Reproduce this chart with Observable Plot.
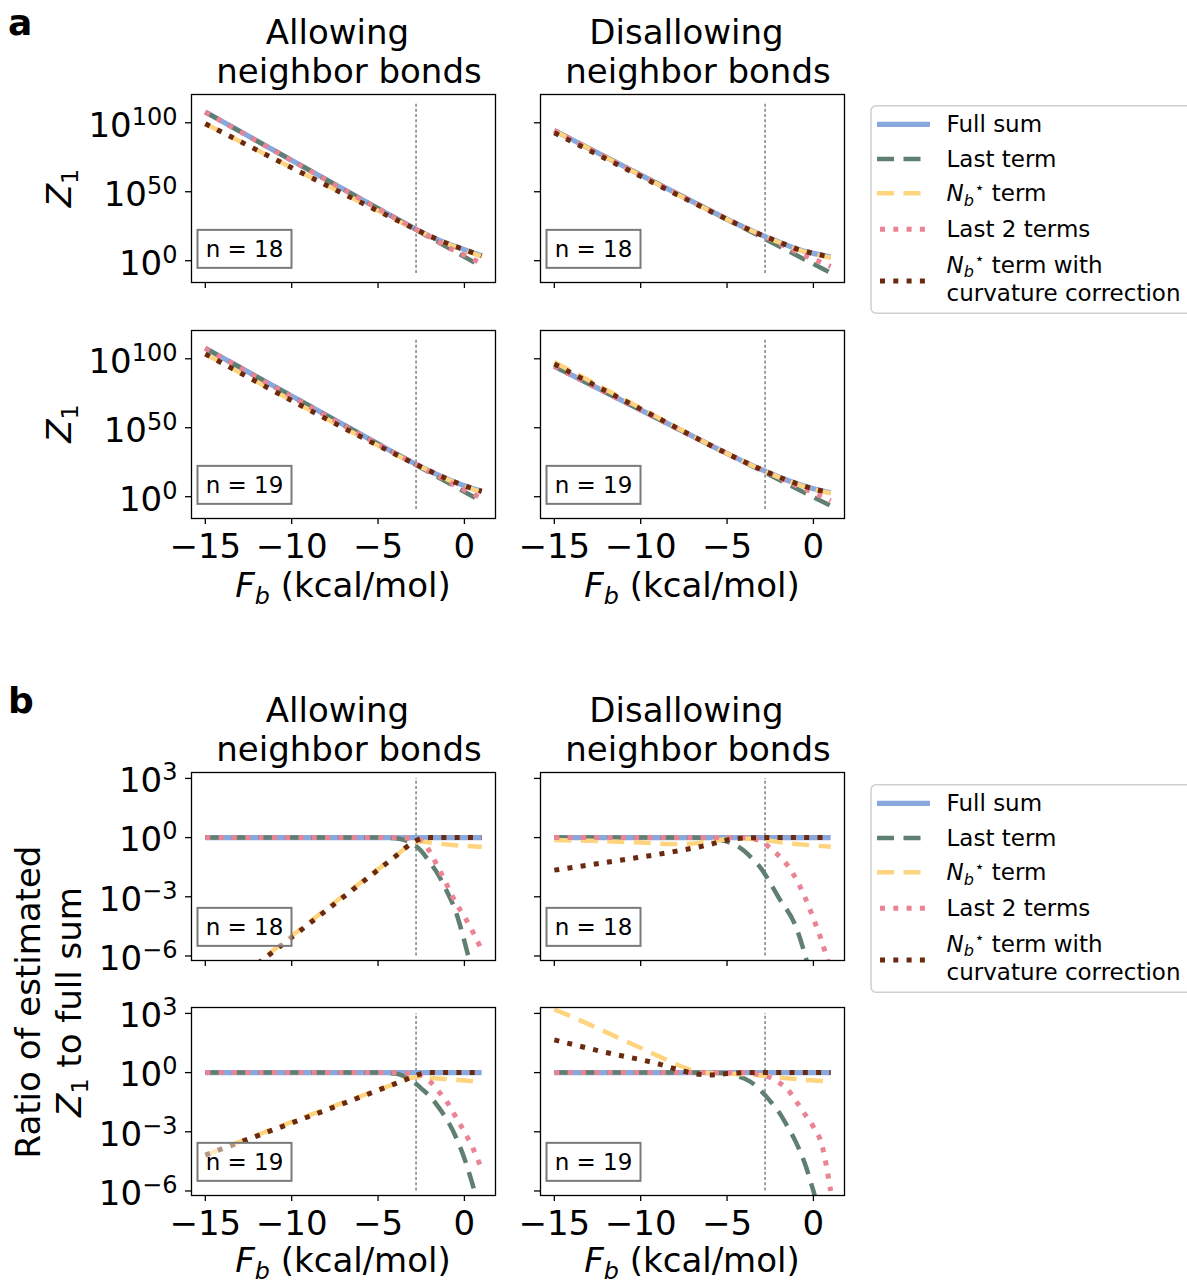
<!DOCTYPE html>
<html><head><meta charset="utf-8">
<script src="https://cdn.jsdelivr.net/npm/d3@7"></script>
<script src="https://cdn.jsdelivr.net/npm/@observablehq/plot@0.6"></script>
<style>
body{margin:0;background:#fff;}
#fig{position:relative;width:1187px;height:1285px;overflow:hidden;background:#fff;font-family:"DejaVu Sans",sans-serif;}
#fig > svg{position:absolute;}
</style></head><body><div id="fig"></div>
<script>
// ---------------- data (x = F_b in kcal/mol, y = log10 of value) ----------------
const xTicks = [-15, -10, -5, 0];
const zTickExps = [0, 50, 100];          // Z1 axis ticks (powers of ten)
const ratioTickExps = [3, 0, -3, -6];    // ratio axis ticks (powers of ten)
const thresholdF = -2.8;                 // dashed vertical line
const columnTitles = [["Allowing", "neighbor bonds"], ["Disallowing", "neighbor bonds"]];
const nValues = [18, 19];
const seriesNames = ["Full sum", "Last term", "Nb* term", "Last 2 terms", "Nb* term with curvature correction"];

// panel a: log10 Z1
const zAllow18_full  = [[-15,107.8],[-5,37.8],[-4,30.9],[-3,24.1],[-2,17.9],[-1,12.5],[0,8.0],[1,3.6]];
const zAllow18_last  = [[-15,107.8],[1,-4.2]];
const zAllow18_nb    = [[-15,99.35],[-4,29.95],[-3,23.8],[-2,17.65],[-1,12.15],[0,7.6],[1,3.1]];
const zAllow18_last2 = [[-15,107.8],[-4,30.9],[-3,24.05],[-2,17.2],[-1,10.1],[0,4.0],[1,-2.0]];
const zAllow18_curv  = [[-15,99.35],[-4,29.95],[-3,23.85],[-2,17.9],[-1,12.5],[0,8.0],[1,3.6]];

const zDis18_full  = [[-15,94.4],[-7,42.8],[-6,36.4],[-5,30.1],[-4,24.1],[-3,18.6],[-2,13.6],[-1,8.7],[0,5.3],[1,2.7]];
const zDis18_last  = [[-15,94.4],[1,-8.8]];
const zDis18_nb    = [[-15,94.3],[-10,61.9],[-8,48.9],[-7,42.5],[-6,36.2],[-5,30.0],[-4,24.05],[-3,18.5],[-2,13.4],[-1,8.4],[0,4.9],[1,2.2]];
const zDis18_last2 = [[-15,94.4],[-7,42.8],[-4,24.1],[-3,18.4],[-2,12.7],[-1,6.6],[0,1.2],[1,-4.1]];
const zDis18_curv  = [[-15,92.75],[-11,67.5],[-8,48.55],[-6,36.05],[-5,30.0],[-4,24.1],[-3,18.6],[-2,13.6],[-1,8.7],[0,5.3],[1,2.7]];

const zAllow19_full  = [[-15,107.7],[-5,38.3],[-4,31.4],[-3,24.8],[-2,18.6],[-1,12.9],[0,7.9],[1,3.9]];
const zAllow19_last  = [[-15,107.7],[1,-3.4]];
const zAllow19_nb    = [[-15,103.5],[-4,30.8],[-3,24.55],[-2,18.35],[-1,12.6],[0,7.5],[1,3.4]];
const zAllow19_last2 = [[-15,107.7],[-4,31.4],[-3,24.75],[-2,18.15],[-1,11.4],[0,4.9],[1,-1.0]];
const zAllow19_curv  = [[-15,103.5],[-4,30.8],[-3,24.6],[-2,18.6],[-1,12.9],[0,7.9],[1,3.9]];

const zDis19_full  = [[-15,94.5],[-6,37.6],[-5,31.35],[-4,25.3],[-3,19.6],[-2,14.3],[-1,9.6],[0,5.7],[1,2.9]];
const zDis19_last  = [[-15,94.5],[1,-6.6]];
const zDis19_nb    = [[-15,97.7],[-13.5,87.65],[-12,77.6],[-10.5,67.5],[-9,57.4],[-8,50.7],[-7,44.05],[-6,37.6],[-5,31.3],[-4,25.2],[-3,19.45],[-2,14.05],[-1,9.27],[0,5.3],[1,2.45]];
const zDis19_last2 = [[-15,94.5],[-6,37.6],[-4,25.3],[-3,19.5],[-2,13.8],[-1,8.15],[0,2.95],[1,-3.1]];
const zDis19_curv  = [[-15,96.2],[-12,76.55],[-9,57.05],[-7.5,47.2],[-6,37.5],[-4,25.3],[-3,19.6],[-2,14.3],[-1,9.6],[0,5.7],[1,2.9]];

// panel b: log10 of (estimated Z1 / full sum)
const rAllow18_full  = [[-15,0],[1,0]];
const rAllow18_last  = [[-15,0],[-5,0],[-4,-0.03],[-3.5,-0.12],[-3,-0.3],[-2.5,-0.68],[-2,-1.25],[-1.5,-1.9],[-1,-2.75],[-0.5,-3.75],[0,-5.25],[0.5,-7.0],[1,-9.0]];
const rAllow18_nb    = [[-15,-8.45],[-4,-0.95],[-3,-0.3],[-2.5,-0.2],[-2,-0.25],[-1,-0.35],[0,-0.42],[1,-0.47]];
const rAllow18_last2 = [[-15,0],[-4,0],[-3,-0.05],[-2.5,-0.15],[-2,-0.72],[-1.5,-1.55],[-1,-2.42],[-0.5,-3.3],[0,-4.0],[0.5,-4.8],[1,-5.7]];
const rAllow18_curv  = [[-15,-8.45],[-4,-0.95],[-3,-0.26],[-2.5,-0.05],[-2,0],[1,0]];

const rDis18_full  = [[-15,0],[1,0]];
const rDis18_last  = [[-15,0],[-7,0],[-6,-0.05],[-5,-0.2],[-4,-0.68],[-3.5,-1.1],[-3,-1.6],[-2.5,-2.3],[-2,-3.05],[-1,-4.55],[-0.5,-5.9],[0,-7.6],[1,-11]];
const rDis18_nb    = [[-15,-0.12],[-10,-0.25],[-8,-0.33],[-7,-0.3],[-6,-0.18],[-5,-0.08],[-4,-0.05],[-3,-0.1],[-2,-0.22],[-1,-0.32],[0,-0.4],[1,-0.46]];
const rDis18_last2 = [[-15,0],[-4,0],[-3.5,-0.05],[-3,-0.2],[-2.5,-0.53],[-2,-0.92],[-1.5,-1.4],[-1,-2.1],[-0.5,-3.0],[0,-4.1],[0.5,-5.3],[1,-6.8]];
const rDis18_curv  = [[-15,-1.65],[-11,-1.12],[-8,-0.7],[-6,-0.35],[-5,-0.12],[-4,-0.02],[-3,0],[1,0]];

const rAllow19_full  = [[-15,0],[1,0]];
const rAllow19_last  = [[-15,0],[-5,0],[-4,-0.05],[-3.5,-0.18],[-3,-0.42],[-2.5,-0.8],[-2,-1.2],[-1.5,-1.75],[-1,-2.4],[-0.5,-3.25],[0,-4.35],[0.5,-5.75],[1,-7.4]];
const rAllow19_nb    = [[-15,-4.18],[-4,-0.56],[-3,-0.25],[-2.5,-0.22],[-2,-0.27],[-1,-0.33],[0,-0.4],[1,-0.47]];
const rAllow19_last2 = [[-15,0],[-4,0],[-3,-0.05],[-2.5,-0.15],[-2,-0.45],[-1.5,-0.95],[-1,-1.5],[-0.5,-2.25],[0,-3.0],[0.5,-3.85],[1,-4.9]];
const rAllow19_curv  = [[-15,-4.18],[-4,-0.56],[-3,-0.22],[-2.5,-0.05],[-2,0],[1,0]];

const rDis19_full  = [[-15,0],[1,0]];
const rDis19_last  = [[-15,0],[-6,0],[-5,-0.05],[-4.5,-0.14],[-4,-0.3],[-3.5,-0.55],[-3,-0.95],[-2.5,-1.45],[-2,-2.0],[-1.5,-2.73],[-1,-3.55],[-0.5,-4.6],[0,-6.0],[0.5,-7.6],[1,-9.5]];
const rDis19_nb    = [[-15,3.2],[-13.5,2.65],[-12,2.05],[-10.5,1.45],[-9,0.85],[-8,0.45],[-7,0.12],[-6,-0.02],[-5,-0.05],[-4,-0.08],[-3,-0.15],[-2,-0.25],[-1,-0.33],[0,-0.4],[1,-0.45]];
const rDis19_last2 = [[-15,0],[-4,0],[-3.5,-0.03],[-3,-0.12],[-2.5,-0.25],[-2,-0.5],[-1.5,-0.85],[-1,-1.45],[-0.5,-2.1],[0,-2.75],[0.5,-3.7],[1,-6.0]];
const rDis19_curv  = [[-15,1.66],[-12,1.02],[-9,0.45],[-7.5,0.07],[-6.5,-0.1],[-6,-0.12],[-5,-0.05],[-4,0],[1,0]];

// ---------------- styles & layout ----------------
const lineStyles = [
  {stroke: "#89a9de", width: 5.2, dash: null},
  {stroke: "#5f7f71", width: 4.5, dash: "17,9.5"},
  {stroke: "#ffd47e", width: 4.5, dash: "17,9.5"},
  {stroke: "#ea8494", width: 5, dash: "5,8.3"},
  {stroke: "#6b2a10", width: 5, dash: "5,8.3"}
];
const FRAME_W = 304, FRAME_H = 188;
const colLeft = [191, 540];
const sections = {
  a: {tops: [94, 329.5], domain: [-15.8, 120.5], ticks: zTickExps, rule: [-9.3, 114.2]},
  b: {tops: [771.7, 1007.3], domain: [-6.23, 3.3], ticks: ratioTickExps, rule: [-6, 3]}
};
const panels = [
  {sec: "a", row: 0, col: 0, n: nValues[0], series: [zAllow18_full, zAllow18_last, zAllow18_nb, zAllow18_last2, zAllow18_curv]},
  {sec: "a", row: 0, col: 1, n: nValues[0], series: [zDis18_full, zDis18_last, zDis18_nb, zDis18_last2, zDis18_curv]},
  {sec: "a", row: 1, col: 0, n: nValues[1], series: [zAllow19_full, zAllow19_last, zAllow19_nb, zAllow19_last2, zAllow19_curv]},
  {sec: "a", row: 1, col: 1, n: nValues[1], series: [zDis19_full, zDis19_last, zDis19_nb, zDis19_last2, zDis19_curv]},
  {sec: "b", row: 0, col: 0, n: nValues[0], series: [rAllow18_full, rAllow18_last, rAllow18_nb, rAllow18_last2, rAllow18_curv]},
  {sec: "b", row: 0, col: 1, n: nValues[0], series: [rDis18_full, rDis18_last, rDis18_nb, rDis18_last2, rDis18_curv]},
  {sec: "b", row: 1, col: 0, n: nValues[1], series: [rAllow19_full, rAllow19_last, rAllow19_nb, rAllow19_last2, rAllow19_curv]},
  {sec: "b", row: 1, col: 1, n: nValues[1], series: [rDis19_full, rDis19_last, rDis19_nb, rDis19_last2, rDis19_curv]}
];

const NS = "http://www.w3.org/2000/svg";
const fig = document.getElementById("fig");
const minus = s => String(s).replace("-", "\u2212");

function makePanel(p) {
  const sec = sections[p.sec];
  const isLeft = p.col === 0, isBottom = p.row === 1;
  const ml = isLeft ? 140 : 20, mr = 12, mt = 12, mb = isBottom ? 60 : 20;
  const marks = [
    Plot.ruleX([{F: thresholdF, lo: 10 ** sec.rule[0], hi: 10 ** sec.rule[1]}],
      {x: "F", y1: "lo", y2: "hi", stroke: "#555", strokeWidth: 1.1, strokeDasharray: "3,2.2"}),
    ...p.series.map((s, i) => Plot.line(s, {
      x: d => d[0], y: d => 10 ** d[1], curve: "monotone-x", clip: true,
      stroke: lineStyles[i].stroke, strokeWidth: lineStyles[i].width,
      strokeDasharray: lineStyles[i].dash || undefined, strokeLinecap: "butt", strokeLinejoin: "round"
    })),
    Plot.text([`n = ${p.n}`], {text: d => d, frameAnchor: "bottom-left", dx: 53, dy: -33,
      textAnchor: "middle", lineAnchor: "middle", fontSize: 23, fill: "#000"}),
    Plot.frame({stroke: "#000", strokeWidth: 1.3}),
    Plot.axisX({ticks: xTicks, tickSize: 6, tickPadding: 9, strokeWidth: 1.3, label: null,
      tickFormat: isBottom ? (d => minus(d)) : (() => "")}),
    Plot.axisY({ticks: sec.ticks.map(e => 10 ** e), tickSize: 6, tickPadding: 8, strokeWidth: 1.3, label: null,
      tickFormat: isLeft ? (d => "10^" + Math.round(Math.log10(d))) : (() => "")})
  ];
  const svg = Plot.plot({
    width: ml + FRAME_W + mr, height: mt + FRAME_H + mb,
    marginLeft: ml, marginRight: mr, marginTop: mt, marginBottom: mb,
    style: {fontFamily: "DejaVu Sans", fontSize: "34px", background: "transparent", color: "#000", overflow: "visible"},
    x: {domain: [-15.8, 1.8]},
    y: {type: "log", domain: sec.domain.map(e => 10 ** e)},
    marks
  });
  svg.style.left = (colLeft[p.col] - ml) + "px";
  svg.style.top = (sec.tops[p.row] - mt) + "px";
  fig.append(svg);

  svg.querySelectorAll("text").forEach(t => {
    const s = t.textContent;
    if (s === "") { t.remove(); return; }
    if (s.startsWith("10^")) {
      const exp = s.slice(3);
      t.textContent = "";
      const base = document.createElementNS(NS, "tspan");
      base.textContent = "10"; base.setAttribute("dy", "3");
      const sup = document.createElementNS(NS, "tspan");
      sup.textContent = minus(exp); sup.setAttribute("dy", "-12"); sup.setAttribute("font-size", "24");
      t.append(base, sup);
    } else if (s.startsWith("n = ")) {
      const bb = t.getBBox();
      const r = document.createElementNS(NS, "rect");
      r.setAttribute("x", bb.x + bb.width / 2 - 47);
      r.setAttribute("y", bb.y + bb.height / 2 - 19);
      r.setAttribute("width", 94); r.setAttribute("height", 38);
      r.setAttribute("fill", "#fff"); r.setAttribute("fill-opacity", "0.5");
      r.setAttribute("stroke", "#7a7a7a"); r.setAttribute("stroke-width", "2");
      const tr = t.getAttribute("transform");
      if (tr) r.setAttribute("transform", tr);
      t.parentNode.insertBefore(r, t);
    }
  });
}
panels.forEach(makePanel);

// ---------------- overlay text: titles, labels, legends ----------------
const ov = d3.select(fig).append("svg")
  .attr("width", 1187).attr("height", 1285)
  .style("left", "0px").style("top", "0px").style("pointer-events", "none")
  .attr("font-family", "DejaVu Sans").attr("fill", "#000");

function rich(sel, parts, fs) {
  let off = 0;
  parts.forEach(p => {
    const ts = sel.append("tspan").text(p.t);
    const target = p.sub ? fs * 0.2 : p.sup ? -fs * 0.36 : 0;
    if (target - off) ts.attr("dy", target - off);
    off = target;
    if (p.sub || p.sup) ts.attr("font-size", fs * 0.7);
    if (p.italic) ts.attr("font-style", "italic");
    if (p.dx) ts.attr("dx", p.dx);
  });
  return sel;
}

const panelCenters = colLeft.map(l => l + FRAME_W / 2);
const titleCenters = [[337.5, 349], [686.5, 698]];
[["a", 0], ["b", 678]].forEach(([letter, off]) => {
  ov.append("text").attr("x", 8).attr("y", 35 + off).attr("font-size", 36).attr("font-weight", "bold").text(letter);
  columnTitles.forEach((lines, c) => {
    lines.forEach((ln, k) => {
      ov.append("text").attr("x", titleCenters[c][k]).attr("y", 43.5 + off + k * 39.5)
        .attr("text-anchor", "middle").attr("font-size", 34).text(ln);
    });
  });
});
// x labels
[597, 1272].forEach(y => panelCenters.forEach(cx => {
  rich(ov.append("text").attr("x", cx).attr("y", y).attr("text-anchor", "middle").attr("font-size", 34),
    [{t: "F", italic: true}, {t: "b", italic: true, sub: true}, {t: " (kcal/mol)"}], 34);
}));
// y labels panel a
sections.a.tops.forEach(top => {
  rich(ov.append("text").attr("transform", `translate(71,${top + FRAME_H / 2}) rotate(-90)`)
    .attr("text-anchor", "middle").attr("font-size", 34),
    [{t: "Z", italic: true}, {t: "1", sub: true}], 34);
});
// y label panel b
const bMid = 1002;
ov.append("text").attr("transform", `translate(40,${bMid}) rotate(-90)`)
  .attr("text-anchor", "middle").attr("font-size", 34).text("Ratio of estimated");
rich(ov.append("text").attr("transform", `translate(81,${bMid}) rotate(-90)`)
  .attr("text-anchor", "middle").attr("font-size", 34),
  [{t: "Z", italic: true}, {t: "1", sub: true}, {t: " to full sum"}], 34);

// legends
const nbParts = [{t: "N", italic: true}, {t: "b", italic: true, sub: true}, {t: "\u22c6", sup: true, dx: 0.5}];
const legendText = [
  [[{t: seriesNames[0]}]],
  [[{t: seriesNames[1]}]],
  [[...nbParts, {t: " term"}]],
  [[{t: seriesNames[3]}]],
  [[...nbParts, {t: " term with"}], [{t: "curvature correction"}]]
];
const entryY = [18.6, 53.3, 87.6, 123.6, 175.3];
function legend(top) {
  const g = ov.append("g");
  g.append("rect").attr("x", 871).attr("y", top).attr("width", 340).attr("height", 207.6)
    .attr("rx", 5).attr("fill", "#fff").attr("fill-opacity", 0.8).attr("stroke", "#cfcfcf").attr("stroke-width", 1.5);
  lineStyles.forEach((st, i) => {
    const y = top + entryY[i];
    g.append("line").attr("x1", st.dash && st.dash.startsWith("5") ? 880 : 877).attr("x2", 930)
      .attr("y1", y).attr("y2", y).attr("stroke", st.stroke).attr("stroke-width", st.width)
      .attr("stroke-dasharray", st.dash).attr("stroke-linecap", "butt");
    const lines = legendText[i];
    lines.forEach((parts, k) => {
      const by = lines.length === 1 ? y + 8 : top + 167 + k * 28;
      rich(g.append("text").attr("x", 946.5).attr("y", by).attr("font-size", 23), parts, 23);
    });
  });
}
legend(105.7);
legend(784.7);
</script></body></html>
